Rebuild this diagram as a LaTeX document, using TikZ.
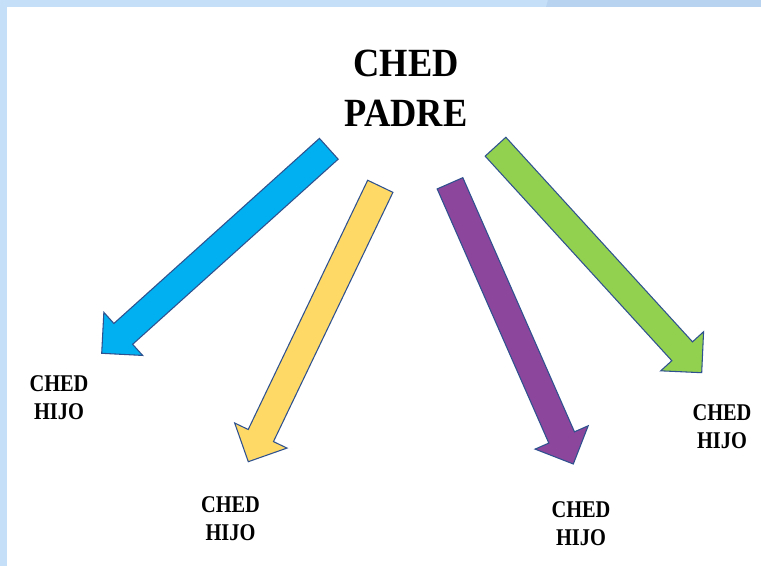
\documentclass[tikz,border=0pt]{standalone}
\usepackage{fontspec}
\setmainfont{Liberation Serif}
\usepackage{tikz}
\usetikzlibrary{calc}

\definecolor{fondo}{RGB}{197,223,248}
\definecolor{fondoosc}{RGB}{184,211,240}
\definecolor{borde}{RGB}{47,82,143}
\definecolor{azul}{RGB}{0,176,240}
\definecolor{amarillo}{RGB}{255,217,102}
\definecolor{morado}{RGB}{140,70,156}
\definecolor{verde}{RGB}{146,208,80}

\tikzset{
    flecha/.style={draw=borde, line width=0.8pt, line join=miter},
    padre/.style={font=\bfseries\fontsize{30}{37.5}\selectfont, align=center,
        inner sep=0pt, xscale=0.91, transform shape},
    hijo/.style={font=\bfseries\fontsize{18}{21}\selectfont, align=center,
        inner sep=0pt, xscale=0.85, transform shape}
}

% block arrow: fill colour, tail, tip
\newcommand{\blockarrow}[3]{%
    \coordinate (hb) at ($(#3)!21.75pt!(#2)$);
    \draw[flecha, fill=#1]
        ($(#2)!10.5pt!90:(#3)$) -- ($(hb)!10.5pt!90:(#3)$)
        -- ($(hb)!21.75pt!90:(#3)$) -- (#3)
        -- ($(hb)!21.75pt!-90:(#3)$) -- ($(hb)!10.5pt!-90:(#3)$)
        -- ($(#2)!10.5pt!-90:(#3)$) -- cycle;
}

\begin{document}
\begin{tikzpicture}[x=0.75pt, y=-0.75pt]
                \useasboundingbox (0,0) rectangle (761,566);
                \fill[fondo] (0,0) rectangle (761,566);
                \fill[fondoosc] (548,0) -- (761,0) -- (761,7) -- (546,7) -- cycle;
                \fill[white] (7,7) rectangle (761,566);

                \node[padre] (ched) at (406,88.7) {CHED\\PADRE};
                \node[hijo] (hijo1) at (59,398) {CHED\\HIJO};
                \node[hijo] (hijo2) at (230.5,518.7) {CHED\\HIJO};
                \node[hijo] (hijo3) at (581,524) {CHED\\HIJO};
                \node[hijo] (hijo4) at (722,427) {CHED\\HIJO};

                \coordinate (cola1) at (328.8,148.8);
                \coordinate (punta1) at (101.7,353.3);
                \coordinate (cola2) at (380.3,186.3);
                \coordinate (punta2) at (248.3,461.7);
                \coordinate (cola3) at (450,183.3);
                \coordinate (punta3) at (573.3,464);
                \coordinate (cola4) at (495.5,146.7);
                \coordinate (punta4) at (701.7,372.7);

                \blockarrow{azul}{cola1}{punta1}
                \blockarrow{amarillo}{cola2}{punta2}
                \blockarrow{morado}{cola3}{punta3}
                \blockarrow{verde}{cola4}{punta4}
            \end{tikzpicture}
\end{document}
